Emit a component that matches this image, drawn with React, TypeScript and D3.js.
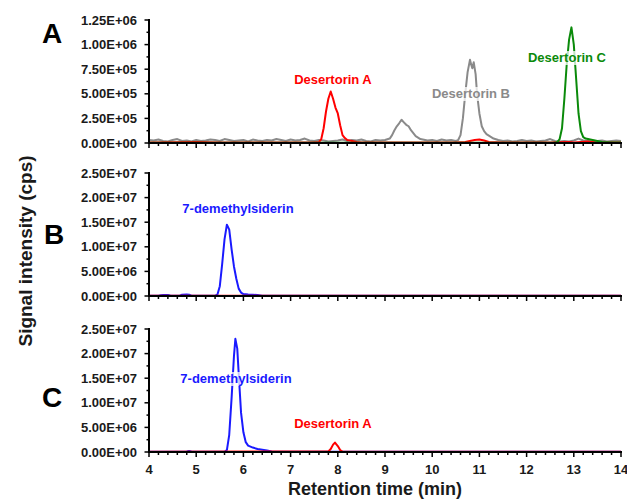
import React from "react";
import * as d3 from "d3";

// ---------- DATA (retention time in min, intensity in cps) ----------
const xTicks = [4, 5, 6, 7, 8, 9, 10, 11, 12, 13, 14];
const yTicksA = [0, 2.5e5, 5e5, 7.5e5, 1e6, 1.25e6];
const yTicksBC = [0, 5e6, 1e7, 1.5e7, 2e7, 2.5e7];

// Panel A — values in 1e3 cps
const aDesertorinB: [number, number][] = [
  [4.0, 30], [4.1, 25], [4.2, 35], [4.3, 20], [4.4, 15], [4.5, 30], [4.6, 40], [4.7, 20], [4.8, 25], [4.9, 15],
  [5.0, 30], [5.1, 20], [5.2, 25], [5.3, 35], [5.4, 30], [5.5, 20], [5.6, 40], [5.7, 30], [5.8, 20], [5.9, 25],
  [6.0, 30], [6.1, 15], [6.2, 35], [6.3, 25], [6.4, 20], [6.5, 30], [6.6, 25], [6.7, 40], [6.8, 30], [6.9, 20],
  [7.0, 35], [7.1, 25], [7.2, 30], [7.3, 45], [7.4, 25], [7.5, 20], [7.6, 30], [7.7, 25], [7.8, 15], [7.9, 20],
  [8.0, 25], [8.1, 35], [8.2, 20], [8.3, 30], [8.4, 25], [8.5, 35], [8.6, 20], [8.7, 15], [8.8, 30], [8.9, 25],
  [9.0, 30], [9.1, 45], [9.15, 80], [9.2, 130], [9.25, 170], [9.3, 200], [9.35, 236], [9.4, 210], [9.45, 185],
  [9.5, 170], [9.55, 130], [9.6, 100], [9.65, 70], [9.7, 55], [9.75, 40], [9.8, 35], [9.9, 25], [10.0, 30],
  [10.1, 20], [10.2, 35], [10.3, 25], [10.4, 30], [10.5, 20], [10.55, 30], [10.6, 80], [10.65, 250], [10.7, 500],
  [10.75, 720], [10.8, 845], [10.83, 790], [10.85, 760], [10.88, 820], [10.92, 700], [10.95, 500], [11.0, 300],
  [11.05, 170], [11.1, 120], [11.15, 90], [11.2, 75], [11.25, 60], [11.3, 45], [11.4, 30], [11.5, 20],
  [11.6, 25], [11.7, 15], [11.8, 20], [11.9, 30], [12.0, 20], [12.1, 25], [12.2, 15], [12.3, 20], [12.4, 25],
  [12.5, 40], [12.6, 20], [12.7, 15], [12.8, 20], [12.9, 15], [13.0, 25], [13.1, 45], [13.2, 25], [13.3, 20],
  [13.4, 15], [13.5, 20], [13.6, 25], [13.7, 15], [13.8, 20], [13.9, 25], [14.0, 20],
];
const aDesertorinA: [number, number][] = [
  [4.0, 5], [5.0, 10], [5.5, 5], [6.0, 5], [7.0, 5], [7.5, 5], [7.6, 10], [7.65, 40], [7.7, 150], [7.75, 320],
  [7.8, 450], [7.85, 523], [7.9, 450], [7.95, 360], [8.0, 300], [8.05, 180], [8.1, 80], [8.15, 50], [8.2, 30],
  [8.3, 20], [8.4, 10], [8.5, 5], [9.0, 5], [10.0, 5], [10.5, 5], [10.7, 10], [10.9, 30], [11.0, 35], [11.1, 25],
  [11.2, 10], [11.5, 5], [12.5, 5], [12.9, 10], [13.0, 5], [13.3, 15], [13.5, 5], [14.0, 5],
];
const aDesertorinC: [number, number][] = [
  [4.0, 2], [12.6, 3], [12.65, 10], [12.7, 40], [12.75, 150], [12.8, 450], [12.85, 800], [12.9, 1050],
  [12.95, 1175], [13.0, 1000], [13.05, 650], [13.1, 300], [13.15, 120], [13.2, 60], [13.25, 45], [13.3, 40],
  [13.4, 30], [13.5, 20], [13.6, 10], [13.8, 5], [14.0, 5],
];

// Panel B — values in 1e6 cps
const bDemethylsiderin: [number, number][] = [
  [4.0, 0.05], [4.2, 0.05], [4.25, 0.15], [4.3, 0.2], [4.4, 0.2], [4.45, 0.1], [4.5, 0.05], [4.65, 0.05],
  [4.7, 0.25], [4.8, 0.3], [4.85, 0.25], [4.9, 0.05], [5.0, 0.03], [5.4, 0.05], [5.45, 0.3], [5.5, 2.0],
  [5.55, 6.5], [5.6, 11.5], [5.65, 14.5], [5.7, 13.5], [5.75, 9.5], [5.8, 6.0], [5.85, 3.5], [5.9, 1.5],
  [5.95, 0.7], [6.0, 0.4], [6.1, 0.3], [6.2, 0.25], [6.3, 0.2], [6.4, 0.05], [7.0, 0.03], [14.0, 0.03],
];
const bDesertorinA: [number, number][] = [[4.0, 0.05], [14.0, 0.05]];

// Panel C — values in 1e6 cps
const cDemethylsiderin: [number, number][] = [
  [4.0, 0.05], [4.8, 0.1], [4.85, 0.2], [4.9, 0.1], [5.0, 0.05], [5.6, 0.05], [5.65, 0.4], [5.7, 3.5],
  [5.75, 11], [5.8, 19.5], [5.83, 23.0], [5.87, 21], [5.9, 16], [5.95, 8], [6.0, 4.0], [6.05, 2.0],
  [6.1, 1.3], [6.2, 0.9], [6.3, 0.6], [6.4, 0.45], [6.5, 0.3], [6.6, 0.1], [6.7, 0.05], [14.0, 0.05],
];
const cDesertorinA: [number, number][] = [
  [4.0, 0.05], [7.8, 0.1], [7.85, 0.6], [7.9, 1.5], [7.94, 1.92], [8.0, 1.2], [8.05, 0.4], [8.1, 0.1], [14.0, 0.05],
];

const RED = "#ff0000";
const GRAY = "#8a8a8a";
const GREEN = "#0a8a0a";
const BLUE = "#1a1aff";
const FONT = "Arial, 'Liberation Sans', sans-serif";

function fmtE(v: number): string {
  if (v === 0) return "0.00E+00";
  const e = Math.floor(Math.log10(v) + 1e-9);
  const m = v / Math.pow(10, e);
  return m.toFixed(2) + "E+" + String(e).padStart(2, "0");
}

const x = d3.scaleLinear().domain([4, 14]).range([149, 621]);
const xMinor = d3.range(40, 141, 2).map((d) => d / 10);

type Series = { data: [number, number][]; scale: number; color: string };
type Label = { text: string; x: number; y: number; color: string };

type PanelProps = {
  top: number;
  bottom: number;
  max: number;
  ticks: number[];
  series: Series[];
  labels: Label[];
  letter: string;
  letterPos: [number, number];
  showXLabels: boolean;
};

function Panel({ top, bottom, max, ticks, series, labels, letter, letterPos, showXLabels }: PanelProps) {
  const y = d3.scaleLinear().domain([0, max]).range([bottom, top]);
  const step = ticks[1] - ticks[0];
  const minors = ticks.slice(0, -1).map((t) => t + step / 2);
  return (
    <g>
      {series.map((s, i) => {
        const line = d3
          .line<[number, number]>()
          .x((d) => x(d[0]))
          .y((d) => y(d[1] * s.scale))
          .curve(d3.curveLinear);
        return (
          <path key={i} d={line(s.data) || ""} fill="none" stroke={s.color} strokeWidth={2} strokeLinejoin="round" />
        );
      })}
      {/* y axis */}
      <line x1={149} x2={149} y1={top - 1} y2={bottom + 1} stroke="#000" strokeWidth={2} />
      {ticks.map((t) => (
        <g key={"yt" + t}>
          <line x1={144.5} x2={149} y1={y(t)} y2={y(t)} stroke="#000" strokeWidth={1.5} />
          <text x={137} y={y(t)} dy="0.36em" textAnchor="end" fontFamily={FONT} fontWeight="bold" fontSize={13} fill="#1a1a1a">
            {fmtE(t)}
          </text>
        </g>
      ))}
      {minors.map((t) => (
        <line key={"ym" + t} x1={146.5} x2={149} y1={y(t)} y2={y(t)} stroke="#000" strokeWidth={1.5} />
      ))}
      {/* x axis */}
      <line x1={148} x2={622} y1={bottom} y2={bottom} stroke="#000" strokeWidth={2} />
      {xMinor.map((t) => {
        const major = Math.abs(t - Math.round(t)) < 1e-6;
        return (
          <line key={"xt" + t} x1={x(t)} x2={x(t)} y1={bottom} y2={bottom + (major ? 5 : 3)} stroke="#000" strokeWidth={1.5} />
        );
      })}
      {showXLabels &&
        xTicks.map((t) => (
          <text key={"xl" + t} x={x(t)} y={474} textAnchor="middle" fontFamily={FONT} fontWeight="bold" fontSize={13} fill="#1a1a1a">
            {t}
          </text>
        ))}
      {labels.map((l, i) => (
        <g key={"l" + i}>
          <rect x={l.x - l.text.length * 3.3} y={l.y - 11} width={l.text.length * 6.6} height={14} fill="#fff" fillOpacity={0.75} />
          <text x={l.x} y={l.y} textAnchor="middle" fontFamily={FONT} fontWeight="bold" fontSize={13} fill={l.color}>
            {l.text}
          </text>
        </g>
      ))}
      <text x={letterPos[0]} y={letterPos[1]} fontFamily={FONT} fontWeight="bold" fontSize={28} fill="#000">
        {letter}
      </text>
    </g>
  );
}

export default function App() {
  return (
    <svg width={627} height={501} style={{ position: "absolute", left: 0, top: 0, background: "#fff" }}>
      <Panel
        top={20}
        bottom={143}
        max={1.25e6}
        ticks={yTicksA}
        series={[
          { data: aDesertorinB, scale: 1e3, color: GRAY },
          { data: aDesertorinA, scale: 1e3, color: RED },
          { data: aDesertorinC, scale: 1e3, color: GREEN },
        ]}
        labels={[
          { text: "Desertorin A", x: 333, y: 84, color: RED },
          { text: "Desertorin B", x: 471, y: 98, color: GRAY },
          { text: "Desertorin C", x: 567, y: 62, color: GREEN },
        ]}
        letter="A"
        letterPos={[42, 43]}
        showXLabels={false}
      />
      <Panel
        top={173}
        bottom={296}
        max={2.5e7}
        ticks={yTicksBC}
        series={[
          { data: bDemethylsiderin, scale: 1e6, color: BLUE },
          { data: bDesertorinA, scale: 1e6, color: RED },
        ]}
        labels={[{ text: "7-demethylsiderin", x: 238, y: 213, color: BLUE }]}
        letter="B"
        letterPos={[44, 244]}
        showXLabels={false}
      />
      <Panel
        top={329}
        bottom={452}
        max={2.5e7}
        ticks={yTicksBC}
        series={[
          { data: cDemethylsiderin, scale: 1e6, color: BLUE },
          { data: cDesertorinA, scale: 1e6, color: RED },
        ]}
        labels={[
          { text: "7-demethylsiderin", x: 236, y: 383, color: BLUE },
          { text: "Desertorin A", x: 333, y: 428, color: RED },
        ]}
        letter="C"
        letterPos={[42, 407]}
        showXLabels={true}
      />
      <text x={375} y={495} textAnchor="middle" fontFamily={FONT} fontWeight="bold" fontSize={18} fill="#1a1a1a">
        Retention time (min)
      </text>
      <text
        transform="translate(32,251) rotate(-90)"
        textAnchor="middle"
        fontFamily={FONT}
        fontWeight="bold"
        fontSize={19}
        fill="#1a1a1a"
      >
        Signal intensity (cps)
      </text>
    </svg>
  );
}
